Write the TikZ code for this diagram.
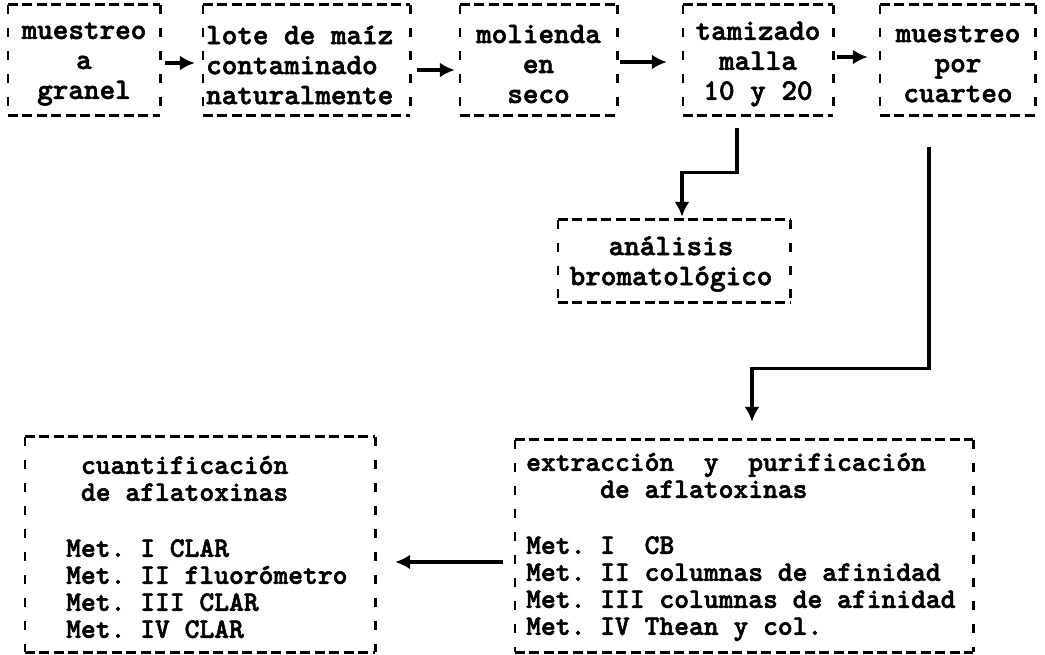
\documentclass[tikz,border=0pt]{standalone}
\usepackage{fontspec}
\newfontfamily\cour{lmmonolt10-bold.otf}[FakeBold=2]
\usetikzlibrary{arrows.meta}
\newcommand\dbox[1]{%
  \draw[hd] (#1.north west) -- (#1.north east) (#1.south west) -- (#1.south east);
  \draw[vd] (#1.north west) -- (#1.south west) (#1.north east) -- (#1.south east);}
\begin{document}
\begin{tikzpicture}[x=1pt,y=-1pt,
  hd/.style={line width=3pt, dash pattern=on 10pt off 4.5pt},
  vd/.style={line width=2.6pt, dash pattern=on 9pt off 14pt},
  box/.style={draw=none, inner sep=0pt},
  toptxt/.style={font=\cour\fontsize{29.7}{30}\selectfont\frenchspacing, align=center, inner sep=0pt},
  bottxt/.style={font=\cour\fontsize{28.2}{27}\selectfont\frenchspacing, align=left, inner sep=0pt},
  arr/.style={line width=3.2pt, -{Latex[length=15pt,width=15pt]}},
]
\useasboundingbox (0,0) rectangle (1045,654);
% top row
\node[box, minimum width=152pt, minimum height=110pt] (b1) at (84,60) {};
\node[toptxt] (t1) at (84,64) {muestreo\\a\\granel};
\node[box, minimum width=207pt, minimum height=110pt] (b2) at (306.5,60) {};
\node[toptxt, align=left, anchor=west] (t2) at (206,65) {lote de maíz\\contaminado\\naturalmente};
\node[box, minimum width=157pt, minimum height=110pt] (b3) at (538.5,60) {};
\node[toptxt] (t3) at (538.5,64) {molienda\\en\\seco};
\node[box, minimum width=150pt, minimum height=110pt] (b4) at (758,60) {};
\node[toptxt] (t4) at (758,64) {tamizado\\malla\\10 y 20};
\node[box, minimum width=155pt, minimum height=110pt] (b5) at (957.5,60) {};
\node[toptxt] (t5) at (958,64) {muestreo\\por\\cuarteo};
% middle
\node[box, minimum width=232pt, minimum height=82pt] (b6) at (674,261) {};
\node[toptxt] (t6) at (671,264) {análisis\\bromatológico};
% bottom
\node[box, minimum width=350pt, minimum height=215pt] (b7) at (200,544.5) {};
\node[bottxt, anchor=west] (t7) at (66,547) {\phantom{x}cuantificación\\\phantom{x}de aflatoxinas\\[29pt]Met. I CLAR\\Met. II fluorómetro\\Met. III CLAR\\Met. IV CLAR};
\node[box, minimum width=458pt, minimum height=212pt] (b8) at (744,546) {};
\node[bottxt, anchor=west] (t8) at (526,547) {extracción\ \ y\ \ purificación\\\phantom{xxxxx}de aflatoxinas\\[29pt]Met. I\ \ CB\\Met. II columnas de afinidad\\Met. III columnas de afinidad\\Met. IV Thean y col.};
\dbox{b1}\dbox{b2}\dbox{b3}\dbox{b4}\dbox{b5}\dbox{b6}\dbox{b7}\dbox{b8}
% connectors
\draw[arr, shorten <=5pt, shorten >=8pt] ([yshift=-3pt]b1.east) -- ([yshift=-3pt]b1.east -| b2.west);
\draw[arr, shorten <=7pt, shorten >=5pt] ([yshift=-10pt]b2.east) -- ([yshift=-10pt]b2.east -| b3.west);
\draw[arr, shorten <=3pt, shorten >=16pt] ([yshift=-2pt]b3.east) -- ([yshift=-2pt]b3.east -| b4.west);
\draw[arr, shorten <=4pt, shorten >=12pt] ([yshift=3pt]b4.east) -- ([yshift=3pt]b4.east -| b5.west);
\draw[arr, shorten >=3pt] ([xshift=-21pt,yshift=-13pt]b4.south) -- ++(0,44) -| ([xshift=8pt]b6.north);
\draw[arr, shorten >=18pt] ([xshift=-28.5pt,yshift=-32pt]b5.south) -- ++(0,221) -| ([xshift=8pt]b8.north);
\draw[arr, shorten <=12pt, shorten >=20pt] ([yshift=-16pt]b8.west) -- ([yshift=-16pt]b8.west -| b7.east);
\end{tikzpicture}
\end{document}
